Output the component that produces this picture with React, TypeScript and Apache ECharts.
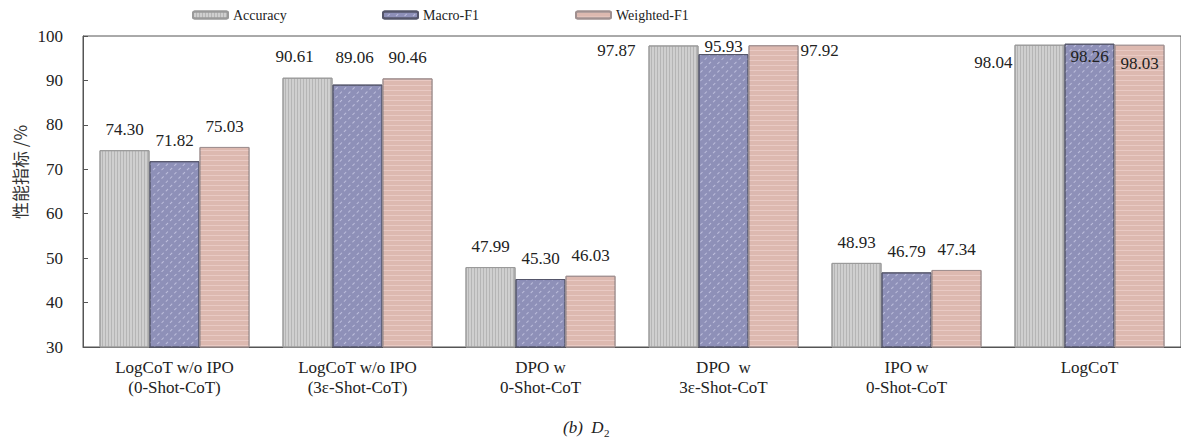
import React, { useEffect, useRef } from "react";
import * as echarts from "echarts";

const categories = [
  "LogCoT w/o IPO\n(0-Shot-CoT)",
  "LogCoT w/o IPO\n(3ε-Shot-CoT)",
  "DPO w\n0-Shot-CoT",
  "DPO  w\n3ε-Shot-CoT",
  "IPO w\n0-Shot-CoT",
  "LogCoT",
];
const seriesNames = ["Accuracy", "Macro-F1", "Weighted-F1"];
const accuracy = [74.3, 90.61, 47.99, 97.87, 48.93, 98.04];
const macroF1 = [71.82, 89.06, 45.3, 95.93, 46.79, 98.26];
const weightedF1 = [75.03, 90.46, 46.03, 97.92, 47.34, 98.03];
const yTicks = { min: 30, max: 100, interval: 10 };

const SERIF = '"Liberation Serif", "Times New Roman", serif';

// special label placements (series index -> category index -> label cfg)
const labelOverrides: Record<number, Record<number, any>> = {
  0: {
    1: { position: [12, -21], align: "center", verticalAlign: "middle" },
    3: { position: [-13, 5], align: "right", verticalAlign: "middle" },
    5: { position: [-2, 18], align: "right", verticalAlign: "middle" },
  },
  1: {
    1: { position: [22, -27], align: "center", verticalAlign: "middle" },
    3: { position: ["50%", -8], align: "center", verticalAlign: "middle" },
    5: { position: ["50%", 13], align: "center", verticalAlign: "middle" },
  },
  2: {
    1: { position: [25, -21], align: "center", verticalAlign: "middle" },
    3: { position: [52, 5], align: "left", verticalAlign: "middle" },
    5: { position: ["50%", 19], align: "center", verticalAlign: "middle" },
  },
};

export default function App() {
  const ref = useRef<HTMLDivElement>(null);
  useEffect(() => {
    if (!ref.current) return;
    const chart = echarts.init(ref.current, null, { renderer: "svg" });
    const styles = [
      {
        color: "#cfcfcf",
        borderColor: "#9a9a9a",
        borderWidth: 1,
        decal: {
          symbol: "rect",
          symbolSize: 1,
          dashArrayX: [1, 2],
          dashArrayY: [20, 0],
          color: "rgba(160,160,160,0.55)",
        },
      },
      {
        color: "#8e90b8",
        borderColor: "#55566a",
        borderWidth: 1,
        decal: {
          symbol: "rect",
          symbolSize: 1,
          dashArrayX: [3, 3],
          dashArrayY: [1, 5],
          rotation: -Math.PI / 4,
          color: "rgba(235,235,255,0.5)",
        },
      },
      {
        color: "#ddb9b0",
        borderColor: "#a09090",
        borderWidth: 1,
        decal: {
          symbol: "rect",
          symbolSize: 1,
          dashArrayX: [20, 0],
          dashArrayY: [1, 4],
          color: "rgba(255,235,230,0.35)",
        },
      },
    ];
    const datasets = [accuracy, macroF1, weightedF1];
    const legendLeft = [192, 382, 575];
    const option: any = {
      animation: false,
      grid: {
        left: 83,
        top: 36,
        width: 1104,
        height: 311,
        show: true,
        borderColor: "#555",
        borderWidth: 1,
      },
      legend: seriesNames.map((n, i) => ({
        data: [n],
        left: legendLeft[i],
        top: 8,
        padding: 0,
        itemWidth: 35,
        itemHeight: 7,
        itemGap: 5,
        textStyle: { fontFamily: SERIF, fontSize: 14, color: "#222" },
      })),
      xAxis: {
        type: "category",
        data: categories,
        axisTick: { show: false },
        axisLine: { lineStyle: { color: "#555", width: 1 } },
        axisLabel: {
          fontFamily: SERIF,
          fontSize: 17,
          lineHeight: 20,
          color: "#222",
          margin: 10,
          interval: 0,
        },
      },
      yAxis: {
        type: "value",
        min: yTicks.min,
        max: yTicks.max,
        interval: yTicks.interval,
        splitLine: { show: false },
        axisLine: { show: true, lineStyle: { color: "#555", width: 1 } },
        axisTick: { show: true, inside: true, length: 5, lineStyle: { color: "#555" } },
        axisLabel: { fontFamily: SERIF, fontSize: 17, color: "#222", margin: 20 },
      },
      series: seriesNames.map((n, si) => ({
        name: n,
        type: "bar",
        barWidth: 50,
        barGap: "0%",
        itemStyle: styles[si],
        label: {
          show: true,
          position: "top",
          distance: 12,
          fontFamily: SERIF,
          fontSize: 17,
          color: "#222",
          formatter: (p: any) => Number(p.value).toFixed(2),
        },
        data: datasets[si].map((v, ci) => {
          const o = labelOverrides[si][ci];
          return o ? { value: v, label: o } : v;
        }),
      })),
      graphic: [
        {
          type: "text",
          x: 19,
          y: 172,
          rotation: Math.PI / 2,
          style: {
            text: "性能指标 /%",
            font: '17px "Noto Sans CJK SC", sans-serif',
            fill: "#333",
            textAlign: "center",
            textVerticalAlign: "middle",
          },
        },
        {
          type: "text",
          x: 563,
          y: 427,
          style: {
            text: "(b)  D",
            font: 'italic 17px "Liberation Serif", serif',
            fill: "#222",
            textAlign: "left",
            textVerticalAlign: "middle",
          },
        },
        {
          type: "text",
          x: 604,
          y: 433,
          style: {
            text: "2",
            font: '11px "Liberation Serif", serif',
            fill: "#222",
            textAlign: "left",
            textVerticalAlign: "middle",
          },
        },
      ],
    };
    chart.setOption(option);
    return () => chart.dispose();
  }, []);
  return (
    <div
      ref={ref}
      style={{ position: "fixed", left: 0, top: 0, width: 1181, height: 440, background: "#fff" }}
    />
  );
}
